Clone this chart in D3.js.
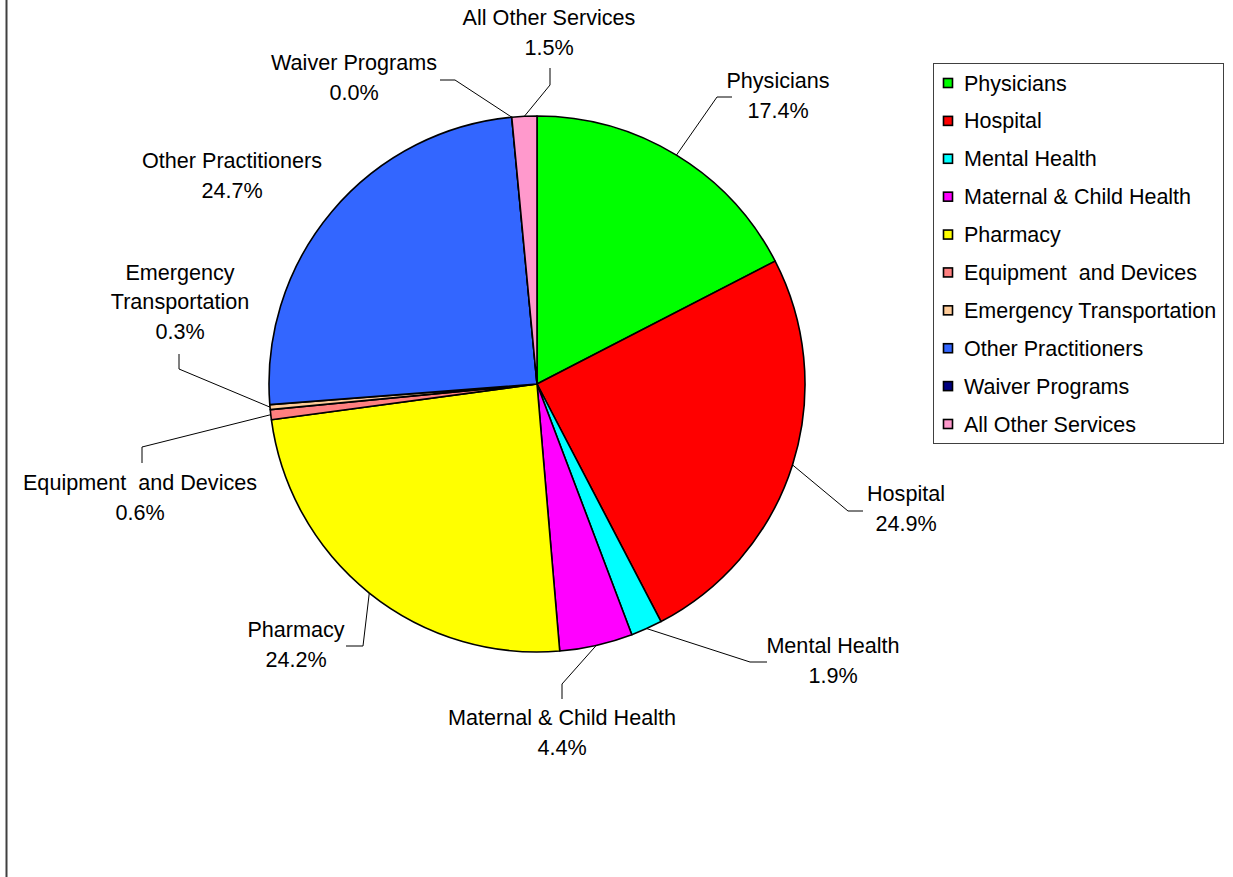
<!DOCTYPE html>
<html>
<head>
<meta charset="utf-8">
<script src="https://cdn.jsdelivr.net/npm/d3@7"></script>
<style>
  html, body { margin: 0; padding: 0; background: #fff; }
  svg text { font-family: Arial, "Liberation Sans", sans-serif; fill: #000; white-space: pre; }
</style>
</head>
<body>
<svg id="chart" width="1233" height="877"></svg>
<script>
// ---- data ----
const categories = ["Physicians", "Hospital", "Mental Health", "Maternal & Child Health", "Pharmacy",
  "Equipment  and Devices", "Emergency Transportation", "Other Practitioners", "Waiver Programs", "All Other Services"];
const shares = [17.4, 24.9, 1.9, 4.4, 24.2, 0.6, 0.3, 24.7, 0.0, 1.5];
const percentLabels = ["17.4%", "24.9%", "1.9%", "4.4%", "24.2%", "0.6%", "0.3%", "24.7%", "0.0%", "1.5%"];
const colors = ["#00FF00", "#FF0000", "#00FFFF", "#FF00FF", "#FFFF00", "#FF8080", "#FFCC99", "#3366FF", "#000080", "#FF99CC"];

// ---- layout (label placement, not data) ----
const cx = 537, cy = 384, R = 268;
const fontSize = 21.6, lineH = 30;
// label: text centre x, first line centre y, optional elbow & end of leader line
const labelLayout = [
  { x: 778, y: 80,  elbow: [717, 97],  end: [732, 97] },
  { x: 906, y: 493, elbow: [848, 511], end: [863, 511] },
  { x: 833, y: 645, elbow: [750, 662], end: [767, 662] },
  { x: 562, y: 717, elbow: [562, 684], end: [562, 699] },
  { x: 296, y: 629, elbow: [363, 646], end: [346, 646] },
  { x: 140, y: 482, elbow: [142, 447], end: [142, 463] },
  { x: 180, y: 272, elbow: [179, 369], end: [179, 354], wrap: true },
  { x: 232, y: 160 },
  { x: 354, y: 62,  elbow: [455, 80],  end: [440, 80] },
  { x: 549, y: 17,  elbow: [550, 85],  end: [550, 68] }
];

const svg = d3.select("#chart");

// left frame line
svg.append("line").attr("x1", 6.5).attr("x2", 6.5).attr("y1", 0).attr("y2", 877)
  .attr("stroke", "#404040").attr("stroke-width", 2);

const data = categories.map((c, i) => ({ name: c, value: shares[i], pct: percentLabels[i], color: colors[i], i }));

const pie = d3.pie().value(d => d.value).sort(null);
const arcs = pie(data);
const arc = d3.arc().innerRadius(0).outerRadius(R);

const g = svg.append("g").attr("transform", `translate(${cx},${cy})`);
g.selectAll("path").data(arcs).join("path")
  .attr("d", arc)
  .attr("fill", d => d.data.color)
  .attr("stroke", "#000")
  .attr("stroke-width", 1.6)
  .attr("stroke-linejoin", "round");

// leader lines
const edgePoint = a => {
  const m = (a.startAngle + a.endAngle) / 2;
  return [cx + R * Math.sin(m), cy - R * Math.cos(m)];
};
arcs.forEach((a, i) => {
  const L = labelLayout[i];
  if (!L.elbow) return;
  const p = edgePoint(a);
  svg.append("polyline")
    .attr("points", [p, L.elbow, L.end].map(q => q.join(",")).join(" "))
    .attr("fill", "none").attr("stroke", "#000").attr("stroke-width", 1);
});

// labels
arcs.forEach((a, i) => {
  const L = labelLayout[i];
  const lines = L.wrap ? a.data.name.split(" ").concat([a.data.pct]) : [a.data.name, a.data.pct];
  const t = svg.append("text").attr("text-anchor", "middle").attr("font-size", fontSize);
  lines.forEach((ln, k) => {
    t.append("tspan").attr("x", L.x).attr("y", L.y + k * (L.wrap ? 29.5 : lineH))
      .attr("dy", "0.35em").text(ln);
  });
});

// legend
const lg = svg.append("g");
lg.append("rect").attr("x", 933.5).attr("y", 63.5).attr("width", 290).attr("height", 380)
  .attr("fill", "#fff").attr("stroke", "#404040").attr("stroke-width", 1);
const rowY = d3.scaleLinear().domain([0, categories.length - 1]).range([83, 424]);
data.forEach((d, i) => {
  const y = rowY(i);
  lg.append("rect").attr("x", 943.5).attr("y", y - 4.5).attr("width", 9).attr("height", 9)
    .attr("fill", d.color).attr("stroke", "#000").attr("stroke-width", 1.6);
  lg.append("text").attr("x", 964).attr("y", y).attr("dy", "0.35em")
    .attr("font-size", 21.5).text(d.name);
});
</script>
</body>
</html>
